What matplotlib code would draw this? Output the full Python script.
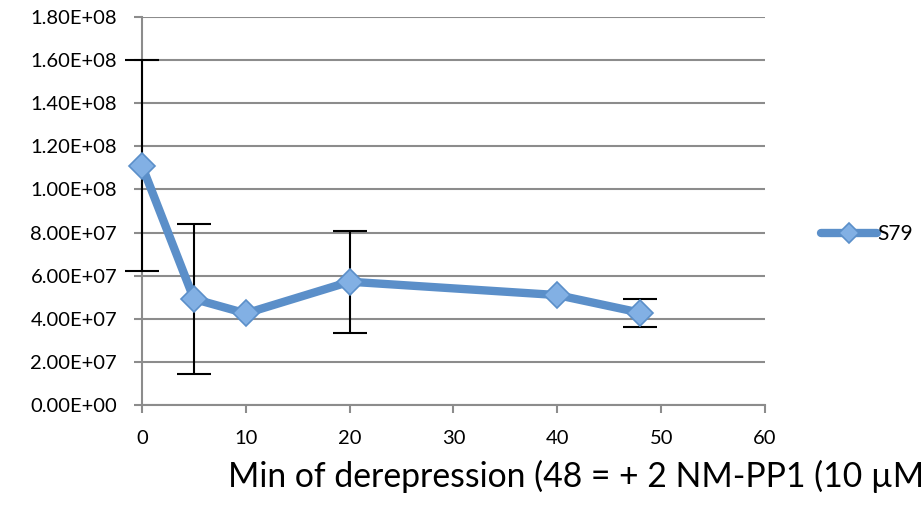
import matplotlib.pyplot as plt

# Data
minutes = [0, 5, 10, 20, 40, 48]
s79 = [1.11e8, 4.92e7, 4.25e7, 5.72e7, 5.10e7, 4.28e7]
s79_err = [4.9e7, 3.5e7, 0, 2.36e7, 0, 6.6e6]
y_ticks = [i * 2e7 for i in range(10)]
x_ticks = [0, 10, 20, 30, 40, 50, 60]

plt.rcParams['font.family'] = ['Lato', 'DejaVu Sans']

fig = plt.figure(figsize=(9.24, 5.09), dpi=100)
ax = fig.add_axes([142 / 924, 104 / 509, 623 / 924, 388 / 509])

# only points that have an error bar in the reference
eb_x = [x for x, e in zip(minutes, s79_err) if e > 0]
eb_y = [y for y, e in zip(s79, s79_err) if e > 0]
eb_e = [e for e in s79_err if e > 0]

line_col = '#5b8fc9'
eb = ax.errorbar(eb_x, eb_y, yerr=eb_e, fmt='none', ecolor='black',
                 elinewidth=1.5, capsize=12, capthick=1.5, zorder=2.6)
for art in eb.lines[1] + eb.lines[2]:
    art.set_clip_on(False)
ax.plot(minutes, s79, color=line_col, lw=6, marker='D', markersize=13,
        markerfacecolor='#82b0e4', markeredgecolor='#5b8fc9',
        markeredgewidth=1.2, label='S79', zorder=3, solid_capstyle='round',
        clip_on=False)

ax.set_xlim(0, 60)
ax.set_ylim(0, 1.8e8)
ax.set_xticks(x_ticks)
ax.set_yticks(y_ticks)
ax.set_yticklabels([f'{v:.2E}' for v in y_ticks])
ax.tick_params(axis='both', labelsize=14.5, color='#8c8c8c', length=6,
               width=1.5, direction='out')
ax.tick_params(axis='x', pad=12)
ax.tick_params(axis='y', pad=12)

ax.grid(axis='y', color='#8c8c8c', lw=1.5)
ax.set_axisbelow(True)
for side in ['top', 'right']:
    ax.spines[side].set_visible(False)
for side in ['left', 'bottom']:
    ax.spines[side].set_color('#8c8c8c')
    ax.spines[side].set_linewidth(1.5)

ax.legend(loc='center left', bbox_to_anchor=(1.06, 0.44), frameon=False,
          fontsize=15, handlelength=2.7, handletextpad=0.0, markerscale=0.8)

fig.text(228 / 924, 22 / 509, 'Min of derepression (48 = + 2 NM-PP1 (10 µM))',
         fontsize=24.3, ha='left', va='baseline')

fig.savefig('out.png', dpi=100)
